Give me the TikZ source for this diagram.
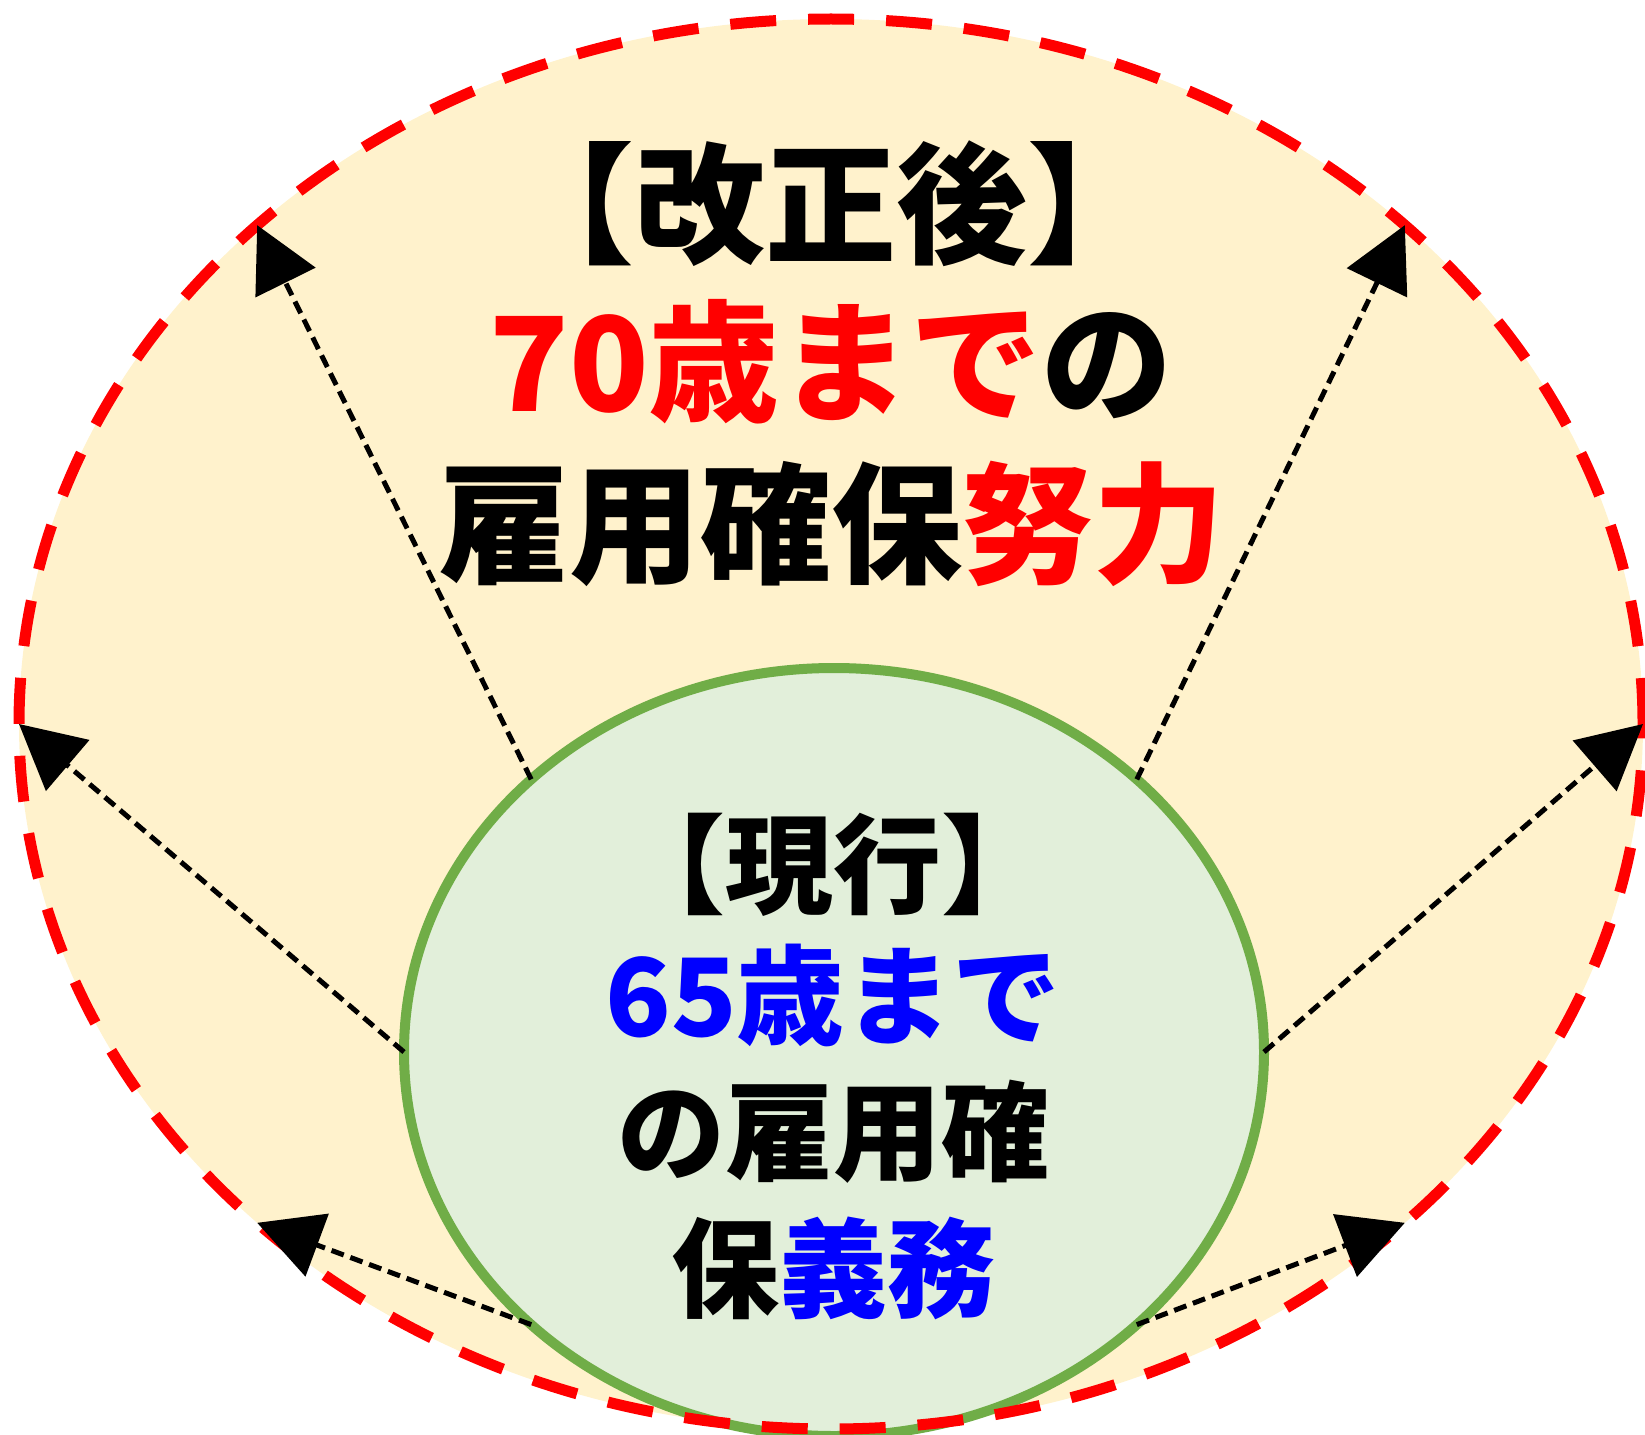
\documentclass[tikz,border=0pt]{standalone}
\usepackage{fontspec}
\newfontfamily\jp{Noto Sans CJK JP}
\usetikzlibrary{shapes.geometric,arrows.meta}
\definecolor{outerfill}{HTML}{FFF2CC}
\definecolor{innerfill}{HTML}{E2EFDA}
\definecolor{ringgreen}{HTML}{70AD47}
\definecolor{myred}{HTML}{FF0000}
\definecolor{myblue}{HTML}{0000FF}
\begin{document}
\begin{tikzpicture}[x=1pt,y=-1pt,
  outerbase/.style={ellipse, minimum width=1624pt, minimum height=1410pt, inner sep=0pt, outer sep=0pt},
  outerfillst/.style={outerbase, fill=outerfill},
  outerline/.style={outerbase, draw=myred, line width=11pt, dash pattern=on 46pt off 32pt},
  innerell/.style={ellipse, draw=ringgreen, fill=innerfill, line width=10pt, minimum width=860pt, minimum height=768pt, inner sep=0pt, outer sep=0pt},
  expand/.style={draw=black, line width=5pt, dash pattern=on 13pt off 7pt, -{Triangle[length=64pt,width=66pt]}},
  bigtxt/.style={font=\jp\bfseries\fontsize{131}{160}\selectfont, anchor=base, inner sep=0pt},
  smalltxt/.style={font=\jp\bfseries\fontsize{108}{134}\selectfont, anchor=base, inner sep=0pt}]
\useasboundingbox (0,0) rectangle (1645,1434);
\node[outerfillst] (outerbg) at (831,724) {};
\node[innerell] (inner) at (834,1052) {};
\node[outerline] (outer) at (831,724) {};
\draw[expand] (inner.138) -- (outer.139);
\draw[expand] (inner.180) -- (outer.180);
\draw[expand] (inner.222) -- (outer.221);
\draw[expand] (inner.42) -- (outer.41);
\draw[expand] (inner.0) -- (outer.0);
\draw[expand] (inner.318) -- (outer.319);
\node[bigtxt] (t1) at (831,253) {【改正後】};
\node[bigtxt] (t2) at (831,411) {\textcolor{myred}{70歳まで}の};
\node[bigtxt] (t3) at (831,573) {雇用確保\textcolor{myred}{努力}};
\node[smalltxt] (s1) at (833,905) {【現行】};
\node[smalltxt] (s2) at (833,1036) {\textcolor{myblue}{65歳まで}};
\node[smalltxt] (s3) at (833,1172) {の雇用確};
\node[smalltxt] (s4) at (833,1309) {保\textcolor{myblue}{義務}};
\end{tikzpicture}
\end{document}
